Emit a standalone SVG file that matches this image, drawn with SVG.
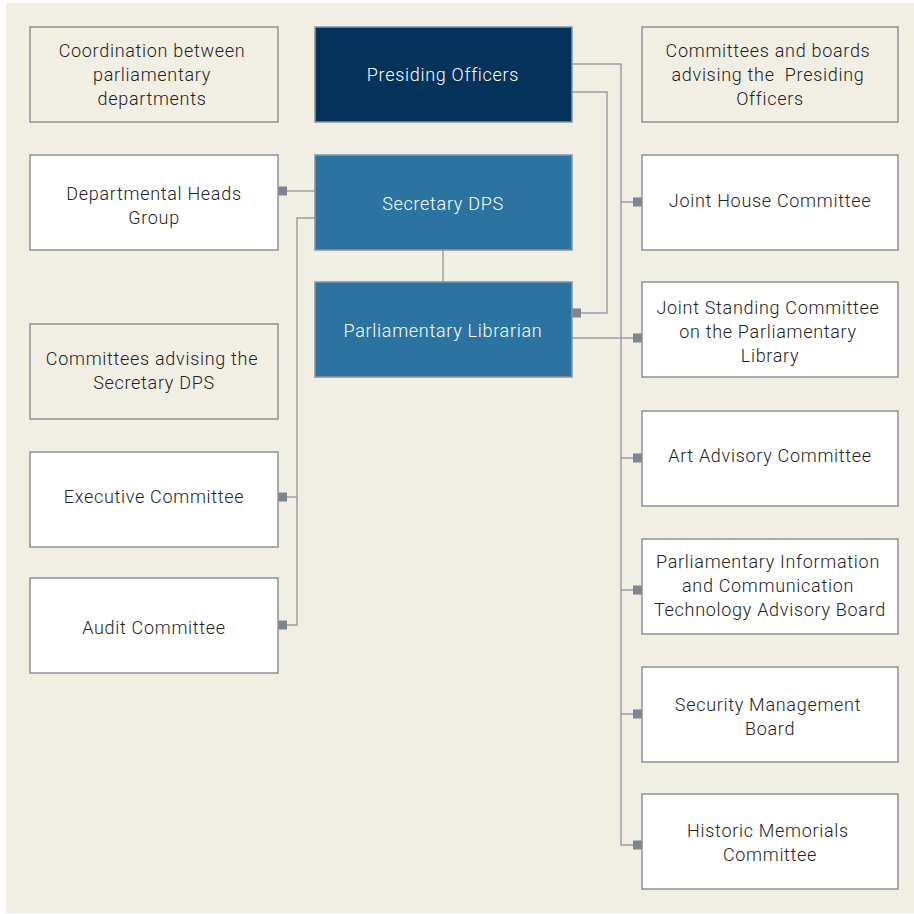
<svg xmlns="http://www.w3.org/2000/svg" width="914" height="914" viewBox="0 0 914 914">
<style>
.bx{stroke:#8c939c;stroke-width:1.5}
.beige{fill:#f1efe3}
.wh{fill:#ffffff}
.dk{fill:#03325a}
.md{fill:#2b73a0}
text{font-family:Roboto,"Liberation Sans",sans-serif;font-size:18px;font-weight:300;fill:#222222;text-anchor:middle;letter-spacing:0.7px}
.lt{fill:#ffffff}
.ln{fill:none;stroke:#9aa0a8;stroke-width:1.5}
.mk{fill:#7d8590}
</style>
<rect x="6" y="3" width="908" height="910" fill="#f1efe3"/>
<g id="connectors">
<polyline class="ln" points="572,64 621,64 621,845 642,845"/>
<line class="ln" x1="621" y1="202" x2="642" y2="202"/>
<line class="ln" x1="621" y1="458" x2="642" y2="458"/>
<line class="ln" x1="621" y1="590" x2="642" y2="590"/>
<line class="ln" x1="621" y1="714" x2="642" y2="714"/>
<polyline class="ln" points="572,92 607,92 607,313 572,313"/>
<line class="ln" x1="572" y1="338" x2="642" y2="338"/>
<line class="ln" x1="278" y1="191" x2="315" y2="191"/>
<polyline class="ln" points="315,218 297,218 297,625 278,625"/>
<line class="ln" x1="297" y1="497" x2="278" y2="497"/>
<line class="ln" x1="443" y1="250" x2="443" y2="282"/>
<rect class="mk" x="633" y="197.5" width="9" height="9"/>
<rect class="mk" x="633" y="453.5" width="9" height="9"/>
<rect class="mk" x="633" y="585.5" width="9" height="9"/>
<rect class="mk" x="633" y="709.5" width="9" height="9"/>
<rect class="mk" x="633" y="840.5" width="9" height="9"/>
<rect class="mk" x="633" y="333.5" width="9" height="9"/>
<rect class="mk" x="572" y="308.5" width="9" height="9"/>
<rect class="mk" x="278" y="186.5" width="9" height="9"/>
<rect class="mk" x="278" y="492.5" width="9" height="9"/>
<rect class="mk" x="278" y="620.5" width="9" height="9"/>
</g>
<g id="coordination"><rect class="bx beige" x="30" y="27" width="248" height="95"/><text x="152" y="57">Coordination between</text><text x="152" y="81">parliamentary</text><text x="152" y="105">departments</text></g>
<g id="dept-heads"><rect class="bx wh" x="30" y="155" width="248" height="95"/><text x="154" y="200">Departmental Heads</text><text x="154" y="224">Group</text></g>
<g id="committees-secretary"><rect class="bx beige" x="30" y="324" width="248" height="95"/><text x="152" y="365">Committees advising the</text><text x="154" y="389">Secretary DPS</text></g>
<g id="executive"><rect class="bx wh" x="30" y="452" width="248" height="95"/><text x="154" y="503">Executive Committee</text></g>
<g id="audit"><rect class="bx wh" x="30" y="578" width="248" height="95"/><text x="154" y="634">Audit Committee</text></g>
<g id="presiding"><rect class="bx dk" x="315" y="27" width="257" height="95"/><text class="lt" x="443" y="81">Presiding Officers</text></g>
<g id="secretary"><rect class="bx md" x="315" y="155" width="257" height="95"/><text class="lt" x="443" y="210">Secretary DPS</text></g>
<g id="librarian"><rect class="bx md" x="315" y="282" width="257" height="95"/><text class="lt" x="443" y="337">Parliamentary Librarian</text></g>
<g id="committees-presiding"><rect class="bx beige" x="642" y="27" width="256" height="95"/><text x="768" y="57">Committees and boards</text><text x="768" y="81" xml:space="preserve">advising the  Presiding</text><text x="770" y="105">Officers</text></g>
<g id="joint-house"><rect class="bx wh" x="642" y="155" width="256" height="95"/><text x="770" y="207">Joint House Committee</text></g>
<g id="joint-standing"><rect class="bx wh" x="642" y="282" width="256" height="95"/><text x="768" y="314">Joint Standing Committee</text><text x="768" y="338">on the Parliamentary</text><text x="770" y="362">Library</text></g>
<g id="art"><rect class="bx wh" x="642" y="411" width="256" height="95"/><text x="770" y="462">Art Advisory Committee</text></g>
<g id="ict"><rect class="bx wh" x="642" y="539" width="256" height="95"/><text x="768" y="568">Parliamentary Information</text><text x="768" y="592">and Communication</text><text x="770" y="616">Technology Advisory Board</text></g>
<g id="security"><rect class="bx wh" x="642" y="667" width="256" height="95"/><text x="768" y="711">Security Management</text><text x="770" y="735">Board</text></g>
<g id="memorials"><rect class="bx wh" x="642" y="794" width="256" height="95"/><text x="768" y="837">Historic Memorials</text><text x="770" y="861">Committee</text></g>
</svg>
